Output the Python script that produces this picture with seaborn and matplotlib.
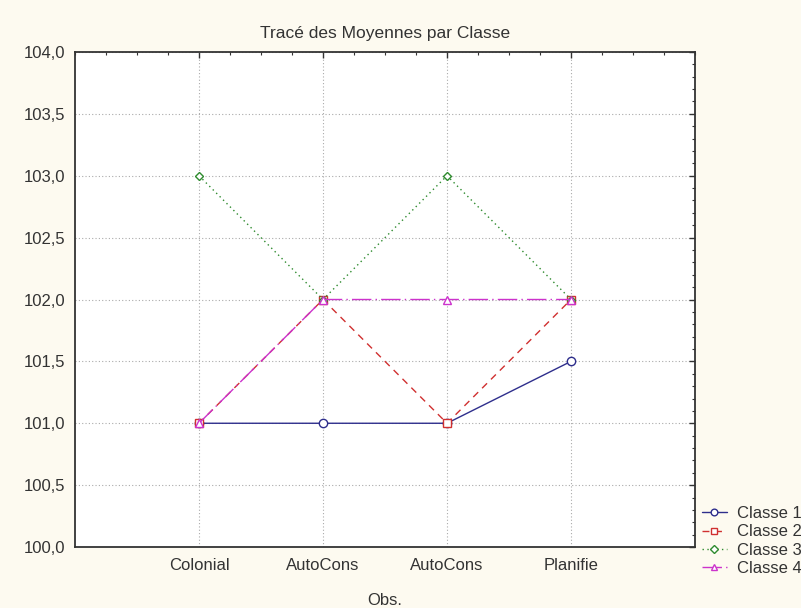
import numpy as np
import pandas as pd
import seaborn as sns
import matplotlib.pyplot as plt
from matplotlib.ticker import MultipleLocator, FuncFormatter

categories = ["Colonial", "AutoCons", "AutoCons", "Planifie"]
classe_1 = [101.0, 101.0, 101.0, 101.5]
classe_2 = [101.0, 102.0, 101.0, 102.0]
classe_3 = [103.0, 102.0, 103.0, 102.0]
classe_4 = [101.0, 102.0, 102.0, 102.0]
series_names = ["Classe 1", "Classe 2", "Classe 3", "Classe 4"]

positions = np.arange(1, len(categories) + 1)
data = pd.DataFrame({
    "pos": np.tile(positions, 4),
    "moyenne": classe_1 + classe_2 + classe_3 + classe_4,
    "classe": np.repeat(series_names, len(categories)),
})

sns.set_theme(style="white")
plt.rcParams["font.family"] = ["Liberation Sans", "DejaVu Sans"]

# styles par classe
colors = ["#2e2e8c", "#d03030", "#2e8b2e", "#cc33cc"]
markers = ["o", "s", "D", "^"]
sizes = [6, 6, 4.5, 6]
dashes = ["-", (0, (5, 4)), (0, (1, 2.5)), (0, (14, 3, 1, 3))]

fig = plt.figure(figsize=(8.01, 6.08), dpi=100)
fig.patch.set_facecolor("#fdfaf0")
ax = fig.add_axes([0.0936, 0.1003, 0.7741, 0.8142])
ax.set_facecolor("white")

for name, col, mk, ms, ls in zip(series_names, colors, markers, sizes, dashes):
    sub = data[data["classe"] == name]
    sns.lineplot(x="pos", y="moyenne", data=sub, ax=ax, color=col,
                 marker=mk, markersize=ms, markerfacecolor="white",
                 markeredgecolor=col, markeredgewidth=1, linewidth=1,
                 linestyle=ls, label=name)

ax.set_xlim(0, 5)
ax.set_ylim(100, 104)
ax.set_xticks(positions)
ax.set_xticklabels(categories)
ax.xaxis.set_minor_locator(MultipleLocator(0.25))
ax.yaxis.set_major_locator(MultipleLocator(0.5))
ax.yaxis.set_minor_locator(MultipleLocator(0.1))
ax.yaxis.set_major_formatter(FuncFormatter(lambda v, p: f"{v:.1f}".replace(".", ",")))

ax.tick_params(which="both", direction="in", top=True, right=True,
               labelsize=12, colors="#333333")
ax.tick_params(which="major", length=4, width=1)
ax.tick_params(which="minor", length=2, width=0.8)
ax.tick_params(axis="x", pad=8)
ax.tick_params(axis="y", pad=7)

ax.grid(True, which="major", color="#aaaaaa", linestyle=(0, (1, 2)), linewidth=0.8)
for s in ax.spines.values():
    s.set_color("#333333")
    s.set_linewidth(1.3)

ax.set_title("Tracé des Moyennes par Classe", fontsize=12.5, pad=10, color="#333333")
ax.set_xlabel("Obs.", fontsize=12, labelpad=14, color="#333333")
ax.set_ylabel("")

ax.legend(loc="center left", bbox_to_anchor=(1.0, 0.012), frameon=False,
          fontsize=12, handlelength=1.5, handletextpad=0.6,
          labelspacing=0.2, markerscale=0.8, borderaxespad=0.0,
          labelcolor="#333333")

plt.savefig("out.png", dpi=100, facecolor=fig.get_facecolor())
